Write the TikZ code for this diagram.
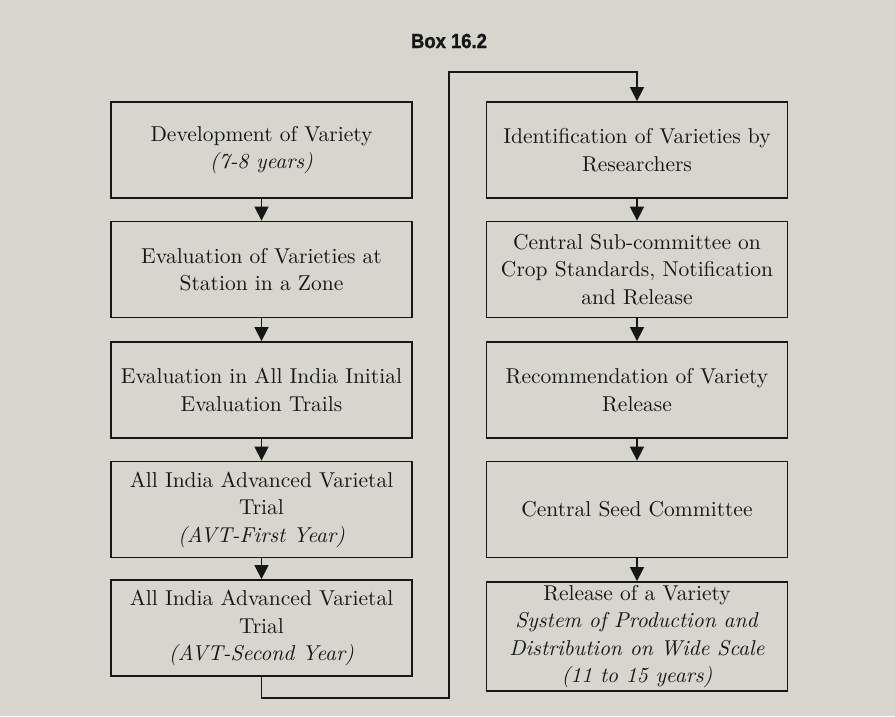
\documentclass[tikz,border=0pt]{standalone}
\usepackage{fontspec}
\setmainfont{lmroman10-regular.otf}[ItalicFont=lmroman10-italic.otf, BoldFont=lmroman10-bold.otf]
\newfontfamily\boxheadfont{Liberation Sans}[FakeStretch=0.9, FakeBold=1.2]
\usetikzlibrary{arrows.meta}
\definecolor{page-grey}{RGB}{214,213,206}
\definecolor{ink}{RGB}{22,22,22}
\tikzset{
  % The 'stage' style is the plain outlined box of one step in the chain
  stage/.style={draw=ink, line width=1.8pt, fill=page-grey, minimum width=301pt, minimum height=96pt, inner sep=0pt, align=center, text=ink, font=\fontsize{21.5}{27.5}\selectfont},
  % The 'stage-tall' style is the same box, a little higher, for the last step
  stage-tall/.style={stage, minimum height=109pt},
  % The 'flow' style draws the connectors with a solid triangular head
  flow/.style={draw=ink, line width=1.5pt, -{Triangle[width=14pt, length=14pt]}},
  % The 'heading-text' style is for the box number on top
  heading-text/.style={font=\boxheadfont\bfseries\fontsize{20.5}{24}\selectfont, text=ink, inner sep=0pt}
}

\begin{document}
\begin{tikzpicture}[x=1pt, y=-1pt]

  % Page background, also fixes the size of the picture
  \fill[page-grey] (0,0) rectangle (895,716);
  \useasboundingbox (0,0) rectangle (895,716);

  % Heading
  \node[heading-text] at (449,41) (heading) {Box 16.2};

  % Left column of steps
  \node[stage] at (261.5,150) (develop) {Development of Variety\\\textit{(7-8 years)}};
  \node[stage] at (261.5,269.5) (station-eval) {Evaluation of Varieties at\\Station in a Zone};
  \node[stage] at (261.5,390) (initial-eval) {Evaluation in All India Initial\\Evaluation Trails};
  \node[stage] at (261.5,509.5) (avt-first) {All India Advanced Varietal\\Trial\\\textit{(AVT-First Year)}};
  \node[stage] at (261.5,628) (avt-second) {All India Advanced Varietal\\Trial\\\textit{(AVT-Second Year)}};

  % Right column of steps
  \node[stage] at (637,150) (identify) {Identification of Varieties by\\Researchers};
  \node[stage] at (637,269.5) (sub-committee) {Central Sub-committee on\\Crop Standards, Notification\\and Release};
  \node[stage] at (637,390) (recommend) {Recommendation of Variety\\Release};
  \node[stage] at (637,509.5) (seed-committee) {Central Seed Committee};
  \node[stage-tall] at (637,636.5) (release) {Release of a Variety\\\textit{System of Production and}\\\textit{Distribution on Wide Scale}\\\textit{(11 to 15 years)}};

  % Arrows down the left column
  \draw[flow] (develop) -- (station-eval);
  \draw[flow] (station-eval) -- (initial-eval);
  \draw[flow] (initial-eval) -- (avt-first);
  \draw[flow] (avt-first) -- (avt-second);

  % Turn from the bottom of the left column to the top of the right one
  \coordinate (turn-low) at (449,698);
  \coordinate (turn-high) at (449,72);
  \draw[flow] (avt-second.south) |- (turn-low) -- (turn-high) -| (identify.north);

  % Arrows down the right column
  \draw[flow] (identify) -- (sub-committee);
  \draw[flow] (sub-committee) -- (recommend);
  \draw[flow] (recommend) -- (seed-committee);
  \draw[flow] (seed-committee) -- (release);

\end{tikzpicture}
\end{document}
